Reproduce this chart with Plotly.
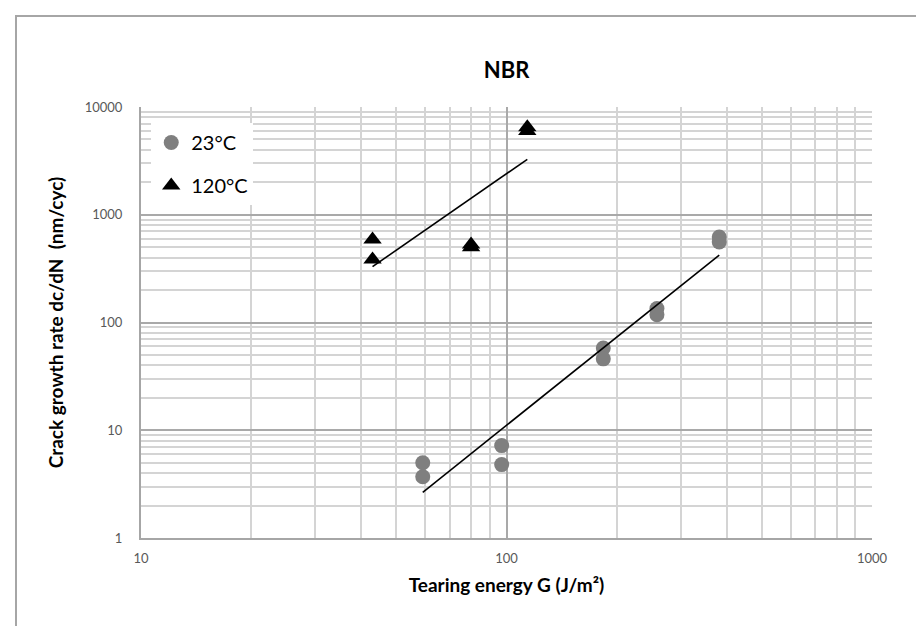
import numpy as np
import plotly.graph_objects as go

# ---- data ----
g_23 = [59, 59, 97, 97, 184, 184, 258, 258, 382, 382]
rate_23 = [5.0, 3.7, 7.2, 4.8, 58, 46, 135, 118, 620, 560]

g_120 = [43, 43, 80, 80, 114, 114]
rate_120 = [590, 385, 530, 500, 6500, 6000]

x_ticks = [10, 100, 1000]
x_ticklabels = ["10", "100", "1000"]
y_ticks = [1, 10, 100, 1000, 10000]
y_ticklabels = ["1", "10", "100", "1000", "10000"]

FONT = "Lato"


def power_fit(x, y):
    lx, ly = np.log10(x), np.log10(y)
    b, a = np.polyfit(lx, ly, 1)
    xs = np.array([min(x), max(x)], dtype=float)
    return xs, 10 ** (a + b * np.log10(xs))


fig = go.Figure()

fig.add_trace(go.Scatter(
    x=g_23, y=rate_23, mode="markers", name="23°C", legendgroup="a",
    marker=dict(symbol="circle", size=15, color="#7f7f7f"),
))
fig.add_trace(go.Scatter(
    x=g_120, y=rate_120, mode="markers", name="120°C", legendgroup="b",
    marker=dict(symbol="triangle-up", size=16, color="#000000"),
))

tx, ty = power_fit(g_23, rate_23)
fig.add_trace(go.Scatter(x=tx, y=ty, mode="lines", showlegend=False,
                         line=dict(color="#000000", width=1.6), hoverinfo="skip"))
tx, ty = power_fit(g_120, rate_120)
fig.add_trace(go.Scatter(x=tx, y=ty, mode="lines", showlegend=False,
                         line=dict(color="#000000", width=1.6), hoverinfo="skip"))


def minor_vals(lo, hi):
    out = []
    d = lo
    while d < hi:
        out += [d * k for k in range(2, 10)]
        d *= 10
    return out


fig.update_layout(
    width=924, height=626,
    margin=dict(l=133, r=60, t=99, b=96),
    paper_bgcolor="#ffffff", plot_bgcolor="#ffffff",
    font=dict(family=FONT, color="#595959", size=13),
    title=dict(text="<b>NBR</b>", x=0.5, xanchor="center", y=0.9, yanchor="middle",
               xref="paper", yref="container",
               font=dict(family=FONT, size=22, color="#000000")),
    showlegend=True,
    legend=dict(x=0.014, y=0.963, xanchor="left", yanchor="top",
                bgcolor="#ffffff", borderwidth=0, tracegroupgap=14,
                font=dict(family=FONT, size=20, color="#000000"),
                itemwidth=30),
    xaxis=dict(
        type="log", range=[1, 3],
        tickvals=x_ticks, ticktext=x_ticklabels,
        showgrid=True, gridcolor="#a9a9a9", gridwidth=1.5,
        minor=dict(tickvals=minor_vals(10, 1000), showgrid=True,
                   gridcolor="#d4d4d4", gridwidth=1.5),
        showline=True, linecolor="#a6a6a6", linewidth=2,
        ticks="", ticklabelstandoff=7,
        tickfont=dict(family=FONT, size=13, color="#595959"),
        zeroline=False,
        title=dict(text="<b>Tearing energy G (J/m²)</b>", standoff=14,
                   font=dict(family=FONT, size=19, color="#000000")),
    ),
    yaxis=dict(
        type="log", range=[0, 4],
        tickvals=y_ticks, ticktext=y_ticklabels,
        showgrid=True, gridcolor="#a9a9a9", gridwidth=1.5,
        minor=dict(tickvals=minor_vals(1, 10000), showgrid=True,
                   gridcolor="#d4d4d4", gridwidth=1.5),
        showline=True, linecolor="#a6a6a6", linewidth=2,
        ticks="", ticklabelstandoff=14,
        tickfont=dict(family=FONT, size=13, color="#595959"),
        zeroline=False,
        title=dict(text="<b>Crack growth rate dc/dN  (nm/cyc)</b>", standoff=16,
                   font=dict(family=FONT, size=19, color="#000000")),
    ),
    shapes=[dict(type="rect", xref="paper", yref="paper",
                 x0=(8 - 133) / 731, x1=(921 - 133) / 731,
                 y0=-0.4, y1=(530 - 8) / 431,
                 line=dict(color="#a6a6a6", width=2), fillcolor="rgba(0,0,0,0)",
                 layer="below")],
)

fig.write_html("out.html")
